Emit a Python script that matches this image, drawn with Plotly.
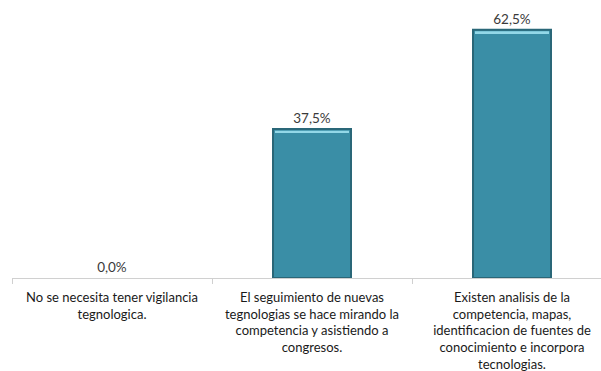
import plotly.graph_objects as go

# Survey responses on technology watch practices
categories = [
    "No se necesita tener vigilancia<br>tegnologica.",
    "El seguimiento de nuevas<br>tegnologias se hace mirando la<br>competencia y asistiendo a<br>congresos.",
    "Existen analisis de la<br>competencia, mapas,<br>identificacion de fuentes de<br>conocimiento e incorpora<br>tecnologias.",
]
percentages = [0.0, 37.5, 62.5]

BAR_FILL = "#3a8ea6"
BAR_EDGE = "#2a6778"
BAR_GLOSS = "#93d8e8"
FONT = "Lato"

fig = go.Figure()

# main bars with value labels (no outline on empty bars)
edge_widths = [2 if v > 0 else 0 for v in percentages]
fig.add_trace(go.Bar(
    x=categories,
    y=percentages,
    width=0.39,
    marker=dict(color=BAR_FILL, line=dict(color=BAR_EDGE, width=edge_widths)),
    texttemplate="%{y:.1f}%",
    textposition="outside",
    cliponaxis=False,
    textfont=dict(family=FONT, size=13.5, color="#3a3a3a"),
    hoverinfo="skip",
))

# thin glossy highlight along the top edge of each non-zero bar
gloss_h = 0.45
gloss_base = [v - 0.85 if v > 0 else 0 for v in percentages]
gloss_vals = [gloss_h if v > 0 else 0 for v in percentages]
fig.add_trace(go.Bar(
    x=categories,
    y=gloss_vals,
    base=gloss_base,
    width=0.37,
    marker=dict(color=BAR_GLOSS, line=dict(width=0)),
    hoverinfo="skip",
))

fig.update_layout(
    width=601,
    height=371,
    margin=dict(l=12, r=0, t=0, b=93),
    paper_bgcolor="white",
    plot_bgcolor="white",
    showlegend=False,
    barmode="overlay",
    separators=",.",
    font=dict(family=FONT, size=13, color="#1a1a1a"),
    xaxis=dict(
        type="category",
        range=[-0.5, 2.445],
        showline=True,
        linecolor="#d0d0d0",
        linewidth=1,
        ticks="outside",
        tickson="boundaries",
        ticklen=5,
        tickcolor="#d0d0d0",
        ticklabelstandoff=7,
        showgrid=False,
        tickfont=dict(family=FONT, size=13, color="#1a1a1a"),
    ),
    yaxis=dict(
        range=[0, 70],
        visible=False,
        showgrid=False,
        zeroline=False,
    ),
)

fig.write_html("out.html")
